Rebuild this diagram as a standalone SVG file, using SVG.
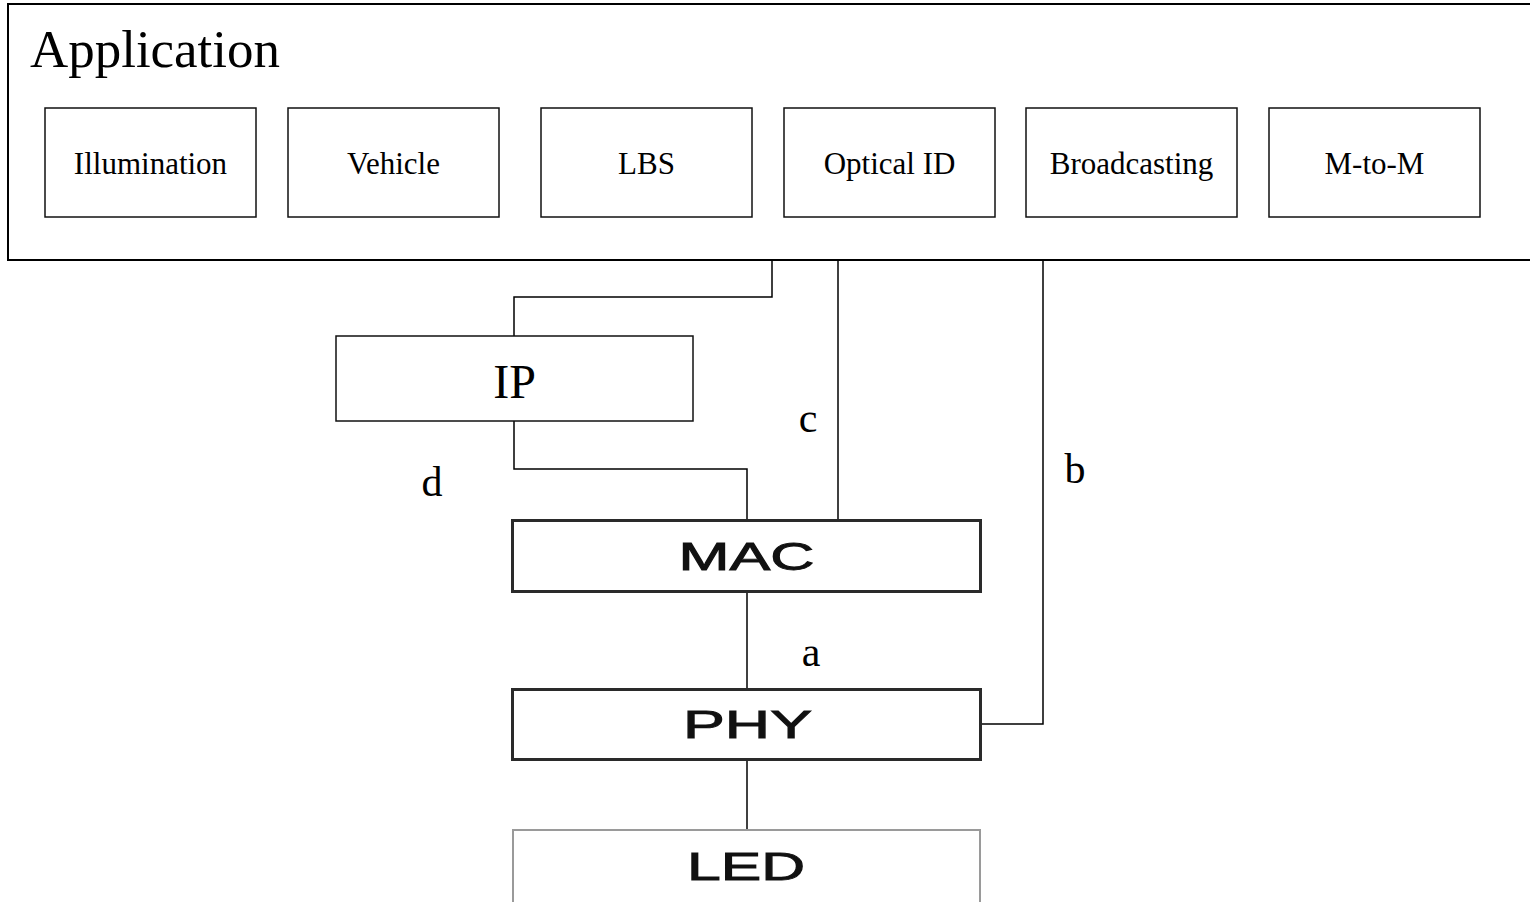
<svg xmlns="http://www.w3.org/2000/svg" width="1530" height="902" viewBox="0 0 1530 902">
<style>
.app{fill:#fff;stroke:#000;stroke-width:2}
.sub{fill:#fff;stroke:#111;stroke-width:1.5}
.sub-t{font-family:"Liberation Serif","Times New Roman",serif;font-size:31px;fill:#000;text-anchor:middle}
.big{font-family:"Liberation Serif","Times New Roman",serif;font-size:52px;fill:#000}
.ipt{font-family:"Liberation Serif","Times New Roman",serif;font-size:48px;fill:#000;text-anchor:middle}
.lbl{font-family:"Liberation Serif","Times New Roman",serif;font-size:42px;fill:#000;text-anchor:middle}
.layer{fill:#fff;stroke:#2a2a2a;stroke-width:3}
.led{fill:#fff;stroke:#9a9a9a;stroke-width:2}
.layer-t{font-family:"Liberation Sans",Arial,sans-serif;font-size:38px;fill:#111;stroke:#111;stroke-width:0.9;text-anchor:middle}
.conn{fill:none;stroke:#000;stroke-width:1.5}
</style>
<rect width="1530" height="902" fill="#fff"/>
<g id="application">
<rect class="app" x="8" y="4" width="1530" height="256"/>
<text class="big" x="30" y="67" textLength="250" lengthAdjust="spacingAndGlyphs">Application</text>
</g>
<g id="illumination"><rect class="sub" x="45" y="108" width="211" height="109"/><text class="sub-t" x="150.5" y="174">Illumination</text></g>
<g id="vehicle"><rect class="sub" x="288" y="108" width="211" height="109"/><text class="sub-t" x="393.5" y="174">Vehicle</text></g>
<g id="lbs"><rect class="sub" x="541" y="108" width="211" height="109"/><text class="sub-t" x="646.5" y="174">LBS</text></g>
<g id="optical-id"><rect class="sub" x="784" y="108" width="211" height="109"/><text class="sub-t" x="889.5" y="174">Optical ID</text></g>
<g id="broadcasting"><rect class="sub" x="1026" y="108" width="211" height="109"/><text class="sub-t" x="1131.5" y="174">Broadcasting</text></g>
<g id="m-to-m"><rect class="sub" x="1269" y="108" width="211" height="109"/><text class="sub-t" x="1374.5" y="174">M-to-M</text></g>
<g id="connectors">
<polyline class="conn" points="772,261 772,297 514,297 514,336"/>
<polyline class="conn" points="514,421 514,469 747,469 747,520"/>
<line class="conn" x1="838" y1="261" x2="838" y2="520"/>
<polyline class="conn" points="1043,261 1043,724 981,724"/>
<line class="conn" x1="747" y1="592" x2="747" y2="689"/>
<line class="conn" x1="747" y1="760" x2="747" y2="830"/>
<text class="lbl" x="808" y="432">c</text>
<text class="lbl" x="432" y="496">d</text>
<text class="lbl" x="1075" y="483">b</text>
<text class="lbl" x="811" y="666">a</text>
</g>
<g id="ip"><rect class="sub" x="336" y="336" width="357" height="85"/><text class="ipt" x="514.5" y="398">IP</text></g>
<g id="mac"><rect class="layer" x="512.5" y="520.5" width="468" height="71"/><text class="layer-t" x="746.5" y="570" textLength="136" lengthAdjust="spacingAndGlyphs">MAC</text></g>
<g id="phy"><rect class="layer" x="512.5" y="689.5" width="468" height="70"/><text class="layer-t" x="747.5" y="738" textLength="129" lengthAdjust="spacingAndGlyphs">PHY</text></g>
<g id="led"><rect class="led" x="513" y="830" width="467" height="90"/><text class="layer-t" x="746" y="880" textLength="118" lengthAdjust="spacingAndGlyphs">LED</text></g>
</svg>
